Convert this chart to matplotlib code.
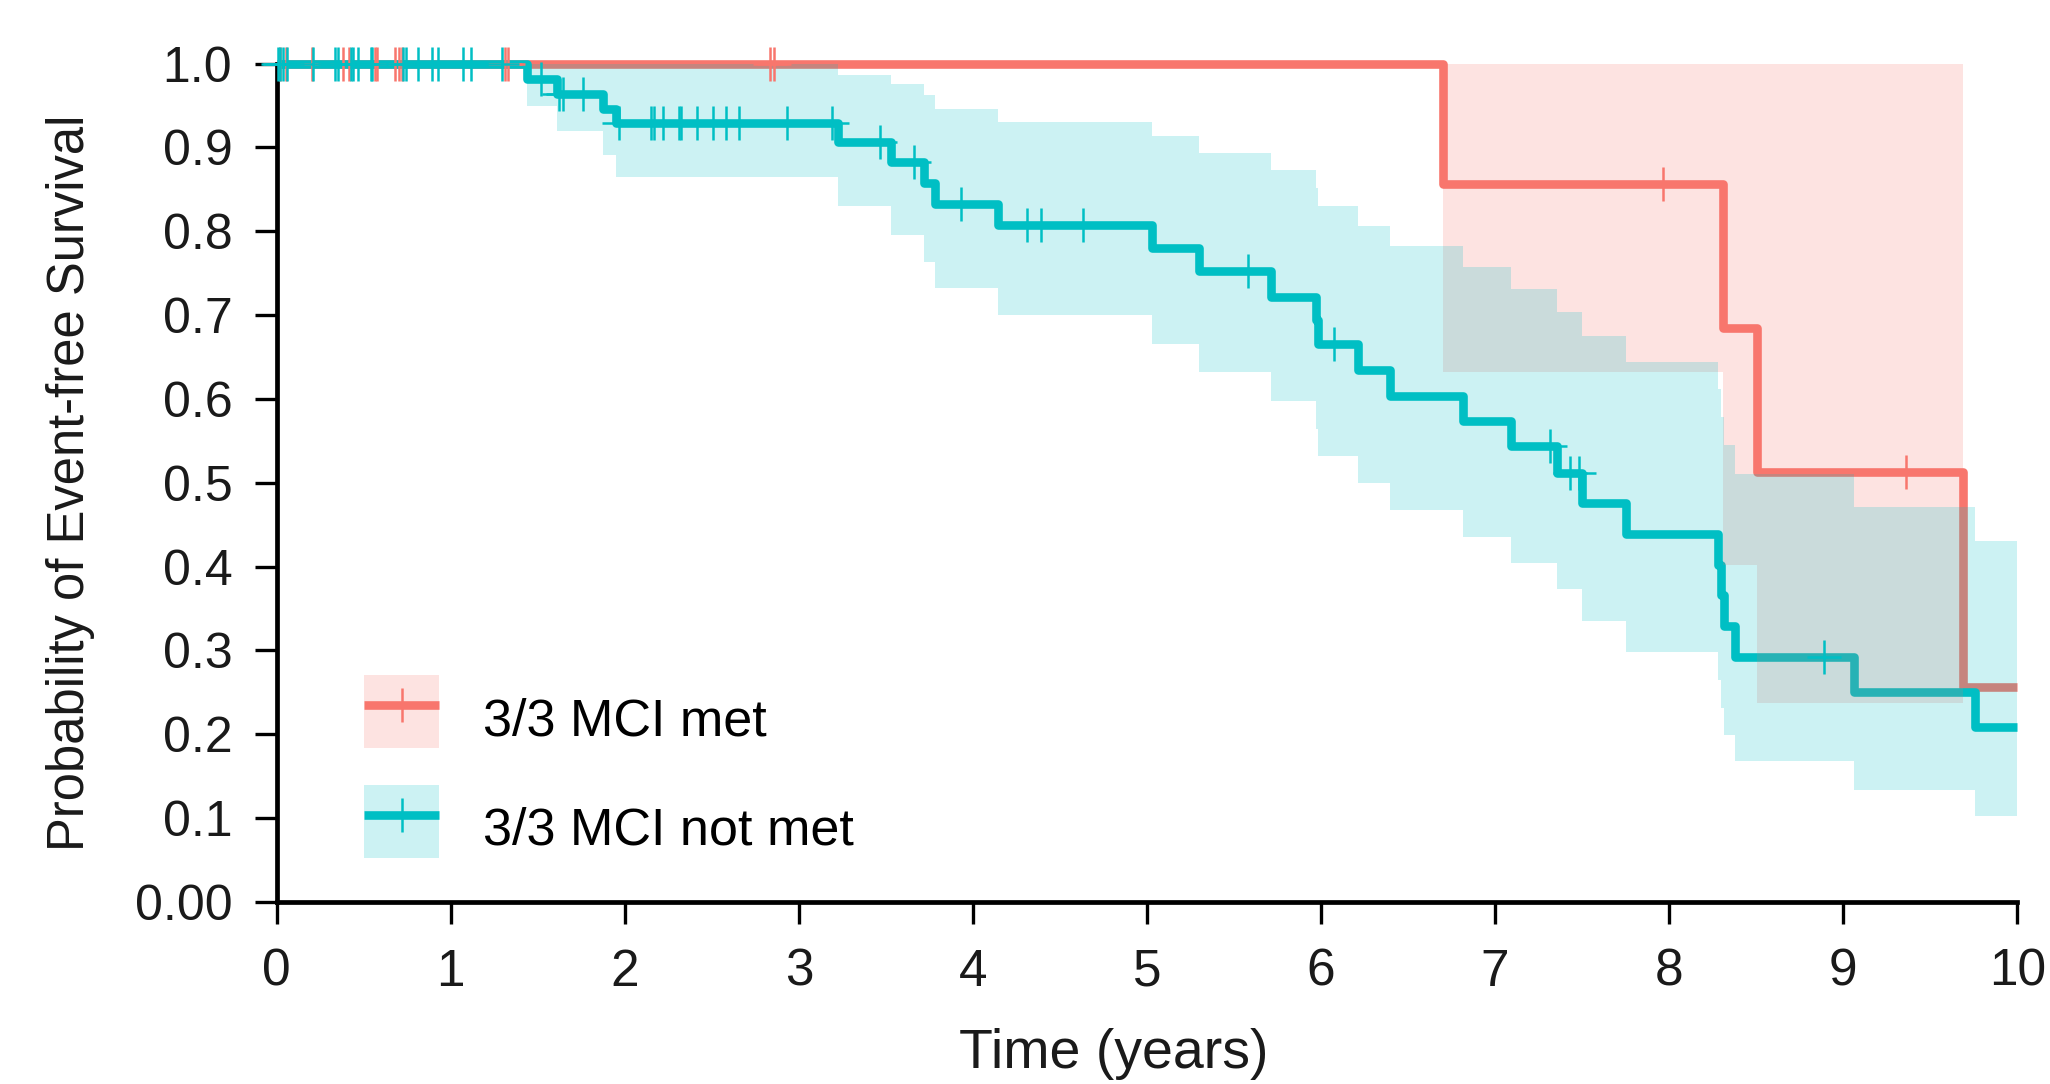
import numpy as np
import matplotlib
matplotlib.use("Agg")
import matplotlib.pyplot as plt
from matplotlib import font_manager
from matplotlib.patches import Patch
from matplotlib.lines import Line2D
from matplotlib.legend_handler import HandlerTuple
from matplotlib.ticker import FixedLocator, FixedFormatter

# ---------------- data ----------------
groups = ["3/3 MCI met", "3/3 MCI not met"]
colors = ["#F8766D", "#00BFC4"]

# 3/3 MCI not met (teal)
teal_times = [0, 1.44, 1.61, 1.875, 1.95, 3.226, 3.53, 3.72, 3.78, 4.145, 5.026, 5.30,
              5.715, 5.97, 5.985, 6.21, 6.395, 6.815, 7.09, 7.355, 7.50, 7.75, 8.28,
              8.30, 8.315, 8.38, 9.065, 9.755]
teal_surv = [1.0, 0.982, 0.964, 0.946, 0.929, 0.906, 0.882, 0.858, 0.833, 0.808, 0.780,
             0.752, 0.722, 0.694, 0.665, 0.635, 0.604, 0.574, 0.544, 0.512, 0.476, 0.439,
             0.402, 0.366, 0.329, 0.292, 0.251, 0.209]
teal_lower = [1.0, 0.949, 0.919, 0.891, 0.865, 0.830, 0.796, 0.763, 0.732, 0.700, 0.666,
              0.632, 0.598, 0.564, 0.532, 0.500, 0.467, 0.435, 0.404, 0.373, 0.335, 0.298,
              0.265, 0.231, 0.199, 0.168, 0.1335, 0.102]
teal_upper = [1.0, 1.0, 1.0, 1.0, 1.0, 0.986, 0.975, 0.962, 0.946, 0.930, 0.913, 0.893,
              0.873, 0.851, 0.830, 0.806, 0.782, 0.757, 0.731, 0.704, 0.675, 0.644, 0.612,
              0.578, 0.545, 0.510, 0.471, 0.431]
teal_end = 10.0
teal_censor = [0.005, 0.02, 0.035, 0.06, 0.207, 0.335, 0.35, 0.425, 0.44, 0.465, 0.54,
               0.55, 0.727, 0.743, 0.813, 0.894, 0.928, 1.068, 1.118, 1.292, 1.516, 1.623,
               1.646, 1.757, 1.968, 2.15, 2.165, 2.22, 2.31, 2.325, 2.416, 2.508, 2.579,
               2.657, 2.93, 3.19, 3.465, 3.66, 3.93, 4.31, 4.39, 4.63, 5.58, 6.075, 7.315,
               7.43, 7.485, 8.89]

# 3/3 MCI met (red)
red_times = [0, 6.70, 8.31, 8.505, 9.69]
red_surv = [1.0, 0.856, 0.685, 0.513, 0.257]
red_lower = [1.0, 0.632, 0.402, 0.237, 0.237]
red_upper = [1.0, 1.0, 1.0, 1.0, 1.0]
red_end = 10.0
red_censor = [0.02, 0.053, 0.20, 0.38, 0.417, 0.565, 0.575, 0.68, 0.705, 0.717, 1.31,
              1.33, 2.835, 2.857, 7.965, 9.36]

xticks = [0, 1, 2, 3, 4, 5, 6, 7, 8, 9, 10]
yticks = [0.0, 0.1, 0.2, 0.3, 0.4, 0.5, 0.6, 0.7, 0.8, 0.9, 1.0]
ytick_labels = ["0.00", "0.1", "0.2", "0.3", "0.4", "0.5", "0.6", "0.7", "0.8", "0.9", "1.0"]
xlabel = "Time (years)"
ylabel = "Probability of Event-free Survival"

# ---------------- fonts ----------------
names = {f.name for f in font_manager.fontManager.ttflist}
base = "Liberation Sans" if "Liberation Sans" in names else "DejaVu Sans"
plt.rcParams["font.family"] = [base, "DejaVu Sans"]
TXT = "#1a1a1a"

# ---------------- figure ----------------
fig = plt.figure(figsize=(20.5, 10.84), dpi=100)
ax = fig.add_axes([0.135, 0.1679, 0.849, 0.7735])

LW = 6.2
MS = 25
MEW = 1.8


def step_line(times, surv, end, color, z):
    t = np.append(times, end)
    s = np.append(surv, surv[-1])
    ax.plot(t, s, drawstyle="steps-post", color=color, lw=LW, zorder=z,
            solid_joinstyle="round", solid_capstyle="butt", clip_on=False)


def band(times, lower, upper, end, color):
    t = np.append(times, end)
    lo = np.append(lower, lower[-1])
    up = np.append(upper, upper[-1])
    ax.fill_between(t, lo, up, step="post", color=color, alpha=0.2, lw=0, zorder=3)


def censors(times, surv, ctimes, color, z):
    idx = np.searchsorted(times, ctimes, side="right") - 1
    ys = np.asarray(surv)[idx]
    ax.plot(ctimes, ys, ls="none", marker="+", ms=MS, mew=MEW, color=color,
            zorder=z, clip_on=False)


step_line(red_times, red_surv, red_end, colors[0], 2.0)
step_line(teal_times, teal_surv, teal_end, colors[1], 2.1)
band(red_times[:-1], red_lower[:-1], red_upper[:-1], red_times[-1], colors[0])
band(teal_times, teal_lower, teal_upper, teal_end, colors[1])
censors(red_times, red_surv, red_censor, colors[0], 4.0)
censors(teal_times, teal_surv, teal_censor, colors[1], 4.1)

ax.set_xlim(0, 10)
ax.set_ylim(0, 1)

for s in ["top", "right"]:
    ax.spines[s].set_visible(False)
for s in ["left", "bottom"]:
    ax.spines[s].set_linewidth(3.4)
    ax.spines[s].set_color("black")

ax.xaxis.set_major_locator(FixedLocator(xticks))
ax.set_xticklabels([str(v) for v in xticks], fontsize=37)
ax.yaxis.set_major_locator(FixedLocator(yticks))
ax.yaxis.set_major_formatter(FixedFormatter(ytick_labels))
for lab in ax.get_yticklabels():
    lab.set_fontsize(36)
    lab.set_color(TXT)
for lab in ax.get_xticklabels():
    lab.set_color(TXT)
ax.tick_params(axis="both", direction="out", length=16, width=2.4, color="black")
ax.tick_params(axis="y", pad=16)
ax.tick_params(axis="x", pad=17)

ax.set_xlabel(xlabel, fontsize=40, color=TXT)
ax.xaxis.set_label_coords(0.481, -0.150)
ax.set_ylabel(ylabel, fontsize=36.5, color=TXT)
ax.yaxis.set_label_coords(-0.1044, 0.5)


class ShiftedTuple(HandlerTuple):
    """Overlay handles, raised a little relative to the label baseline."""
    def __init__(self, dy=5.0, **kw):
        super().__init__(**kw)
        self.dy = dy

    def create_artists(self, legend, orig_handle, xdescent, ydescent, width, height,
                       fontsize, trans):
        return super().create_artists(legend, orig_handle, xdescent, ydescent - self.dy,
                                      width, height, fontsize, trans)


handles = []
for c in colors:
    p = Patch(facecolor=c, alpha=0.2, edgecolor="none")
    l = Line2D([], [], color=c, lw=LW, marker="+", ms=MS, mew=MEW, solid_capstyle="butt")
    handles.append((p, l))
leg = ax.legend(handles, groups, handler_map={tuple: ShiftedTuple(dy=5.0, ndivide=1, pad=0)},
                loc="upper left", bbox_to_anchor=(0.0502, 0.2623), frameon=False,
                borderpad=0, borderaxespad=0, handlelength=1.44, handleheight=1.78,
                handletextpad=0.85, labelspacing=0.70, numpoints=1,
                prop={"family": [base, "DejaVu Sans"], "size": 37.5})
leg.set_zorder(10)
for t in leg.get_texts():
    t.set_color("black")

fig.savefig("out.png", dpi=100, facecolor="white")
